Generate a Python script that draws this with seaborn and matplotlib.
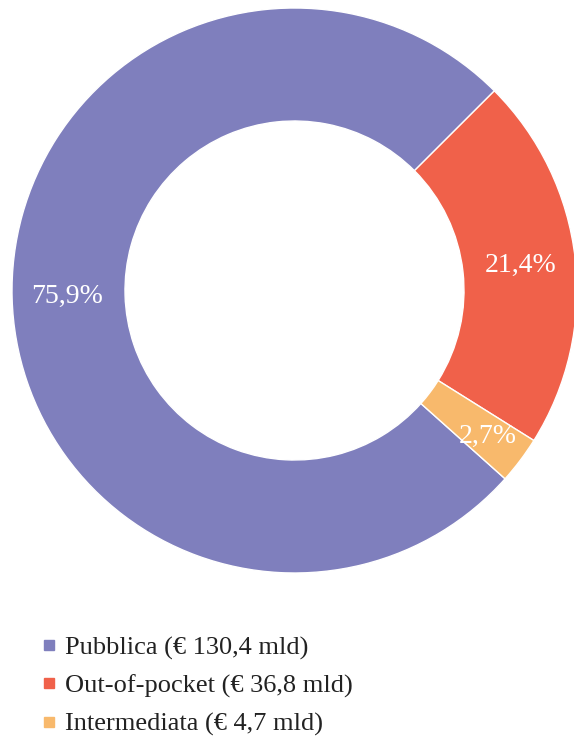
import matplotlib
matplotlib.use("Agg")
import matplotlib.pyplot as plt
import seaborn as sns
from matplotlib.lines import Line2D
import numpy as np

# spesa sanitaria per fonte di finanziamento
categorie = ["Pubblica", "Out-of-pocket", "Intermediata"]
miliardi = [130.4, 36.8, 4.7]
quote = [75.9, 21.4, 2.7]
colori = ["#7f7fbd", "#f0614a", "#f8b96c"]

sns.set_theme(style="white")
plt.rcParams["font.family"] = ["Liberation Serif", "DejaVu Serif"]

fig = plt.figure(figsize=(5.74, 7.36), dpi=100)
ax = fig.add_axes([12 / 574, (736 - 573) / 736, 565 / 574, 565 / 736])

wedges, testi, pct = ax.pie(
    quote, colors=colori, startangle=-41.8, counterclock=False,
    autopct=lambda p: f"{p:.1f}%".replace(".", ","), pctdistance=0.805,
    wedgeprops=dict(width=0.4, edgecolor="white", linewidth=1),
    textprops=dict(color="white", fontsize=20),
)
# l'etichetta piccola sta un po' più in fuori
x, y = pct[2].get_position()
pct[2].set_position((x * 1.065, y * 1.065))

ax.set_xlim(-1, 1)
ax.set_ylim(-1, 1)
ax.set_aspect("equal")
ax.axis("off")

maniglie = [Line2D([], [], marker="s", linestyle="", markersize=7, color=c) for c in colori]
etichette = [f"{c} (€ {v:.1f} mld)".replace(".", ",") for c, v in zip(categorie, miliardi)]
fig.legend(maniglie, etichette, loc="upper left", bbox_to_anchor=(12 / 574, 1 - 612 / 736),
           frameon=False, fontsize=19, labelspacing=0.55, handletextpad=0.1,
           handlelength=1.0, labelcolor="#222222")

fig.savefig("out.png", dpi=100)
